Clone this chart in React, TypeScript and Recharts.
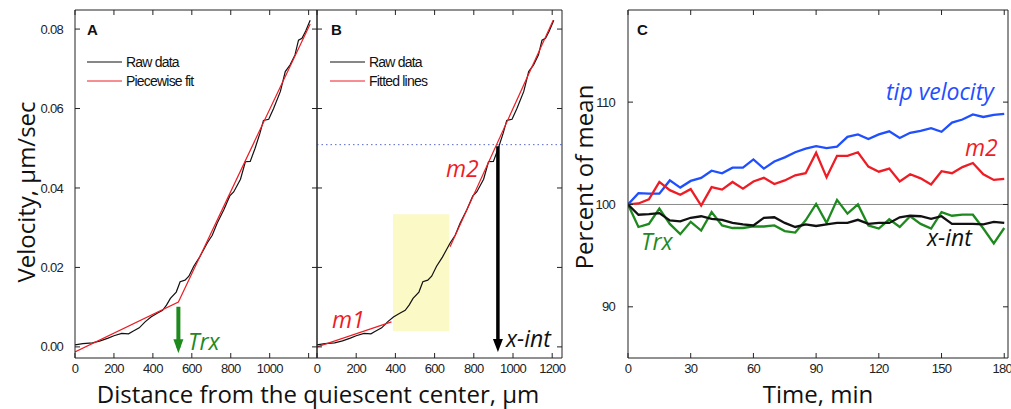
import React from 'react';
import {
  LineChart,
  Line,
  XAxis,
  YAxis,
  ReferenceLine,
  ReferenceArea,
  ReferenceDot,
} from 'recharts';

// distance from quiescent center (um) and velocity (um/sec), shared by A and B
const rawDist = [
  0, 40, 90, 130, 170, 200, 240, 275, 300, 330, 360, 390, 420, 450, 470, 490,
  520, 540, 565, 585, 610, 640, 680, 705, 730, 765, 795, 815, 850, 875, 900,
  925, 950, 968, 995, 1020, 1055, 1080, 1105, 1130, 1148, 1166, 1185, 1208,
];
const rawVel = [
  0.0005, 0.0008, 0.001, 0.0015, 0.0022, 0.0028, 0.0034, 0.0033, 0.004, 0.0048,
  0.0063, 0.0075, 0.0084, 0.0092, 0.0105, 0.0122, 0.0138, 0.0164, 0.0168,
  0.0178, 0.0203, 0.0226, 0.0262, 0.0281, 0.0311, 0.0346, 0.038, 0.039, 0.0422,
  0.0466, 0.0467, 0.05, 0.0538, 0.057, 0.0573, 0.06, 0.0643, 0.0693, 0.071,
  0.0735, 0.0772, 0.0777, 0.0795, 0.0822,
];

// piecewise fit (A)
const fitDist = [0, 531, 1208];
const fitVel = [-0.0013, 0.0113, 0.0813];

// fitted lines (B)
const m1Dist = [0, 380];
const m1Vel = [0.0, 0.0063];
const m2Dist = [679, 1205];
const m2Vel = [0.0252, 0.0822];
const xIntDist = 923;
const xIntVel = 0.0509;
const trxDist = 531;

// panel C, percent of mean vs time
const timeMin = [
  0, 5, 10, 15, 20, 25, 30, 35, 40, 45, 50, 55, 60, 65, 70, 75, 80, 85, 90, 95,
  100, 105, 110, 115, 120, 125, 130, 135, 140, 145, 150, 155, 160, 165, 170,
  175, 180,
];
const tipVelocity = [
  100, 101.1, 101.05, 101.05, 102.35, 101.65, 102.3, 102.6, 103.3, 103.05,
  103.6, 103.6, 104.4, 103.5, 104.2, 104.6, 105.1, 105.45, 105.7, 105.5,
  105.65, 106.6, 106.85, 106.4, 106.85, 107.15, 106.5, 107.0, 107.2, 107.45,
  107.1, 108.0, 108.3, 108.8, 108.55, 108.75, 108.85,
];
const m2Pct = [
  100, 100.1, 100.5, 102.2, 101.4, 100.95, 101.5, 99.9, 101.7, 101.45, 102.2,
  101.55, 102.25, 102.6, 102.0, 102.35, 102.85, 103.05, 105.05, 102.65, 104.75,
  104.75, 105.1, 103.7, 103.2, 103.5, 102.25, 102.95, 102.55, 101.95, 103.25,
  103.05, 103.65, 104.05, 102.95, 102.4, 102.5,
];
const trxPct = [
  100, 97.8, 98.1, 99.6, 98.1, 97.1, 98.3, 97.45, 99.25, 97.95, 97.7, 97.7,
  97.85, 97.85, 97.95, 97.4, 97.25, 98.45, 100.05, 98.2, 100.45, 99.1, 100.0,
  97.95, 97.65, 98.55, 97.8, 98.85, 98.1, 97.65, 99.25, 98.9, 99.0, 99.0,
  97.65, 96.2, 97.7,
];
const xIntPct = [
  100, 99.0, 99.05, 99.15, 98.45, 98.35, 98.7, 98.85, 98.6, 98.5, 98.2, 98.05,
  97.95, 98.7, 98.75, 98.2, 97.8, 98.05, 97.9, 98.05, 98.2, 98.2, 98.5, 98.1,
  98.2, 98.2, 98.75, 98.9, 98.85, 98.6, 98.85, 98.1, 98.1, 98.1, 98.05, 98.3,
  98.2,
];

const velTicks = [0, 0.02, 0.04, 0.06, 0.08];
const distTicks = [0, 200, 400, 600, 800, 1000, 1200];
const timeTicks = [0, 30, 60, 90, 120, 150, 180];
const pctTicks = [90, 100, 110];

const toPts = (xs: number[], ys: number[]) => xs.map((x, i) => ({ x, v: ys[i] }));
const rawData = toPts(rawDist, rawVel);
const fitData = toPts(fitDist, fitVel);
const m1Data = toPts(m1Dist, m1Vel);
const m2Data = toPts(m2Dist, m2Vel);
const timeData = timeMin.map((t, i) => ({
  t,
  tip: tipVelocity[i],
  m2: m2Pct[i],
  trx: trxPct[i],
  xint: xIntPct[i],
}));

const TICK_FONT = "'Liberation Sans', Arial, sans-serif";
const LABEL_FONT = "'Open Sans', sans-serif";
const AXIS = '#222';
const RED = '#ee1c24';
const GREEN = '#1e8a1e';
const BLUE = '#1f4fff';

const tickStyle = {
  fontSize: 13,
  fill: '#222',
  fontFamily: TICK_FONT,
  letterSpacing: -0.7,
};
const blank = () => '';
const VEL_DOMAIN: [number, number] = [-0.0028, 0.0848];

const arrowHead = (color: string, w: number, h: number) => (p: any) => (
  <path
    d={`M${p.cx},${p.cy} L${p.cx - w / 2},${p.cy - h} L${p.cx + w / 2},${p.cy - h} Z`}
    fill={color}
  />
);

export default function App() {
  const common = {
    stroke: AXIS,
    tickLine: { stroke: AXIS },
    tickSize: -5,
    allowDataOverflow: true,
  };

  return (
    <div style={{ position: 'absolute', left: 0, top: 0, width: 1011, height: 409, background: '#fff' }}>
      {/* panel A */}
      <div style={{ position: 'absolute', left: 0, top: 0 }}>
        <LineChart width={330} height={409} margin={{ top: 0, right: 0, bottom: 0, left: 0 }}>
          <XAxis
            {...common}
            type="number"
            dataKey="x"
            domain={[0, 1243]}
            ticks={distTicks}
            tickFormatter={(v: number) => (v === 1200 ? '' : String(v))}
            height={51}
            tickMargin={11}
            tick={tickStyle}
          />
          <XAxis {...common} xAxisId="top" orientation="top" type="number" dataKey="x" domain={[0, 1243]} ticks={distTicks} height={10} tickFormatter={blank} />
          <YAxis
            {...common}
            type="number"
            domain={VEL_DOMAIN}
            ticks={velTicks}
            width={75}
            tickMargin={17}
            tick={tickStyle}
            tickFormatter={(v: number) => v.toFixed(2)}
          />
          <YAxis {...common} yAxisId="right" orientation="right" type="number" domain={VEL_DOMAIN} ticks={velTicks} width={13} tickFormatter={blank} />
          <Line data={rawData} dataKey="v" stroke="#111" strokeWidth={1.2} dot={false} isAnimationActive={false} />
          <Line data={fitData} dataKey="v" stroke={RED} strokeWidth={1.2} dot={false} isAnimationActive={false} />
          <ReferenceLine
            segment={[{ x: trxDist, y: 0.0101 }, { x: trxDist, y: -0.0002 }]}
            stroke={GREEN}
            strokeWidth={4}
          />
          <ReferenceDot x={trxDist} y={-0.0016} r={0} shape={arrowHead(GREEN, 10, 14)} />
        </LineChart>
      </div>

      {/* panel B */}
      <div style={{ position: 'absolute', left: 309, top: 0 }}>
        <LineChart width={263} height={409} margin={{ top: 0, right: 0, bottom: 0, left: 0 }}>
          <XAxis
            {...common}
            type="number"
            dataKey="x"
            domain={[0, 1250]}
            ticks={distTicks}
            height={51}
            tickMargin={11}
            tick={tickStyle}
          />
          <XAxis {...common} xAxisId="top" orientation="top" type="number" dataKey="x" domain={[0, 1250]} ticks={distTicks} height={10} tickFormatter={blank} />
          <YAxis {...common} type="number" domain={VEL_DOMAIN} ticks={velTicks} width={8} tickFormatter={blank} />
          <YAxis {...common} yAxisId="right" orientation="right" type="number" domain={VEL_DOMAIN} ticks={velTicks} width={10} tickFormatter={blank} />
          <ReferenceArea x1={388} x2={675} y1={0.004} y2={0.0334} fill="#fbf9c6" fillOpacity={1} stroke="none" />
          <ReferenceLine y={xIntVel} stroke="#5566cc" strokeDasharray="1.5 3" strokeWidth={1} />
          <Line data={rawData} dataKey="v" stroke="#111" strokeWidth={1.2} dot={false} isAnimationActive={false} />
          <Line data={m1Data} dataKey="v" stroke={RED} strokeWidth={1.2} dot={false} isAnimationActive={false} />
          <Line data={m2Data} dataKey="v" stroke={RED} strokeWidth={1.2} dot={false} isAnimationActive={false} />
          <ReferenceLine
            segment={[{ x: xIntDist, y: xIntVel - 0.0004 }, { x: xIntDist, y: 0.0 }]}
            stroke="#000"
            strokeWidth={3.5}
          />
          <ReferenceDot x={xIntDist} y={-0.0013} r={0} shape={arrowHead('#000', 10, 13)} />
        </LineChart>
      </div>

      {/* panel C */}
      <div style={{ position: 'absolute', left: 560, top: 0 }}>
        <LineChart data={timeData} width={451} height={409} margin={{ top: 0, right: 0, bottom: 0, left: 0 }}>
          <XAxis
            {...common}
            type="number"
            dataKey="t"
            domain={[0, 181.8]}
            ticks={timeTicks}
            height={51}
            tickMargin={11}
            tick={tickStyle}
          />
          <XAxis {...common} xAxisId="top" orientation="top" type="number" dataKey="t" domain={[0, 181.8]} ticks={timeTicks} height={10} tickFormatter={blank} />
          <YAxis {...common} type="number" domain={[85, 119]} ticks={pctTicks} width={68} tickMargin={18} tick={tickStyle} />
          <YAxis {...common} yAxisId="right" orientation="right" type="number" domain={[85, 119]} ticks={pctTicks} width={3} tickFormatter={blank} />
          <ReferenceLine y={100} stroke="#8a8a8a" strokeWidth={1} />
          <Line dataKey="tip" stroke={BLUE} strokeWidth={2.3} dot={false} isAnimationActive={false} />
          <Line dataKey="m2" stroke={RED} strokeWidth={2.3} dot={false} isAnimationActive={false} />
          <Line dataKey="trx" stroke={GREEN} strokeWidth={2.3} dot={false} isAnimationActive={false} />
          <Line dataKey="xint" stroke="#111" strokeWidth={2.3} dot={false} isAnimationActive={false} />
        </LineChart>
      </div>

      {/* titles, panel letters, legends, annotations */}
      <svg width={1011} height={409} style={{ position: 'absolute', left: 0, top: 0, pointerEvents: 'none' }}>
        <g fontFamily={TICK_FONT} fontWeight="bold" fontSize={15} fill="#111">
          <text x={87} y={35}>A</text>
          <text x={331} y={35}>B</text>
          <text x={637} y={35}>C</text>
        </g>

        <g fontFamily={TICK_FONT} fontSize={14} letterSpacing={-0.8} fill="#111">
          <line x1={87} x2={122} y1={62} y2={62} stroke="#111" strokeWidth={1} />
          <text x={126} y={67}>Raw data</text>
          <line x1={87} x2={122} y1={81} y2={81} stroke={RED} strokeWidth={1} />
          <text x={126} y={86}>Piecewise fit</text>
          <line x1={330} x2={365} y1={62} y2={62} stroke="#111" strokeWidth={1} />
          <text x={369} y={67}>Raw data</text>
          <line x1={330} x2={365} y1={81} y2={81} stroke={RED} strokeWidth={1} />
          <text x={369} y={86}>Fitted lines</text>
        </g>

        <g fontFamily={LABEL_FONT} fontSize={24} fill="#111">
          <text x={318} y={403} textAnchor="middle">Distance from the quiescent center, μm</text>
          <text x={818} y={403} textAnchor="middle">Time, min</text>
          <text transform="translate(35,192) rotate(-90)" textAnchor="middle">Velocity, μm/sec</text>
          <text transform="translate(593,177) rotate(-90)" textAnchor="middle">Percent of mean</text>
        </g>

        <g fontFamily={LABEL_FONT} fontSize={23} fontStyle="italic">
          <text x={188} y={350} fill={GREEN}>Trx</text>
          <text x={332} y={328} fill={RED}>m1</text>
          <text x={446} y={177} fill={RED}>m2</text>
          <text x={506} y={347} fill="#111">x-int</text>
          <text x={886} y={100} fill={BLUE}>tip velocity</text>
          <text x={965} y={156} fill={RED}>m2</text>
          <text x={641} y={250} fill={GREEN}>Trx</text>
          <text x={927} y={246} fill="#111">x-int</text>
        </g>
      </svg>
    </div>
  );
}
